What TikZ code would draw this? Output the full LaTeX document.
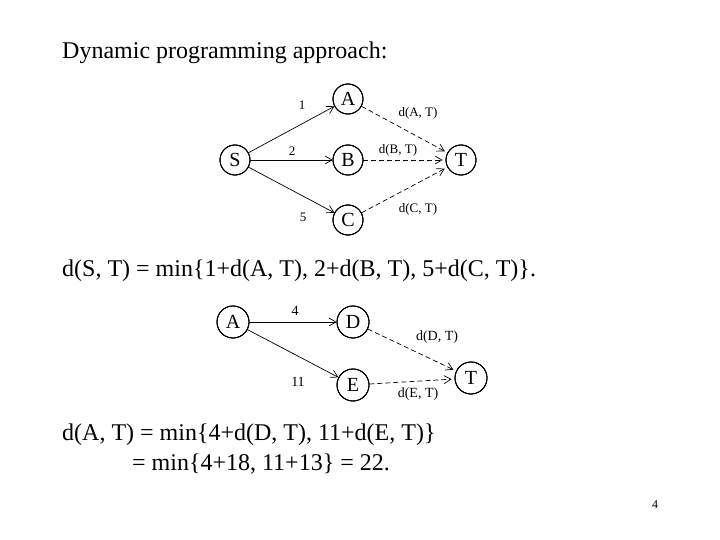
\documentclass[tikz,border=0pt]{standalone}
\usepackage{fontspec}
\setmainfont{Liberation Serif}
\usetikzlibrary{arrows.meta, positioning}

\tikzset{
  state/.style={draw, circle, line width=0.8pt, minimum size=30pt, inner sep=0pt,
    font=\fontsize{20}{20}\selectfont},
  ring/.style={line width=0.8pt},
  cost/.style={inner sep=0pt, font=\fontsize{13}{13}\selectfont},
  textline/.style={inner sep=0pt, anchor=base west, font=\fontsize{24}{29}\selectfont},
  hop/.style={line width=0.7pt, -{Straight Barb[angle=60:8pt]}},
  rest/.style={hop, dash pattern=on 5pt off 3pt, shorten >=3pt}
}

\begin{document}
\begin{tikzpicture}[x=1pt, y=1pt]
  \useasboundingbox (0,0) rectangle (720,-540);

  \node[textline] (title) at (62,-59) {Dynamic programming approach:};

  % first graph: S -> A, B, C -> T
  \node[state] (S) at (235,-160) {S};
  \node[state] (A) at (348,-99) {A};
  \node[state] (B) at (348,-160) {B};
  \node[state] (C) at (348,-220) {C};
  \node[state] (T) at (461,-160) {T};

  % second graph: A -> D, E -> T
  \node[state, minimum size=32pt] (A2) at (233,-322) {A};
  \node[state, minimum size=32pt] (D) at (353,-322) {D};
  \node[state, minimum size=32pt] (E) at (353,-385) {E};
  \node[state, minimum size=32pt] (T2) at (471,-378) {T};

  % rings traced again round every state
  \foreach \v/\r in {S/15,A/15,B/15,C/15,T/15,A2/16,D/16,E/16,T2/16} {
    \draw[ring, shift={(\v)}] plot[domain=0:360, samples=73] (\x:\r pt);
    \draw[ring] (\v) ++(\r pt,0) arc[start angle=0, end angle=359, radius=\r pt];
  }

  \draw[hop] (S) -- (A);
  \draw[hop] (S) -- (B);
  \draw[hop] (S) -- (C);
  \foreach \v in {A,B,C}
    \draw[rest] (\v) -- (T);

  \node[cost] (cSA) at (302,-105) {1};
  \node[cost] (cSB) at (292,-151) {2};
  \node[cost] (cSC) at (303,-217) {5};
  \node[cost] (dAT) at (418,-113) {d(A, T)};
  \node[cost] (dBT) at (398,-150) {d(B, T)};
  \node[cost] (dCT) at (418,-209) {d(C, T)};

  \node[textline] (eq1) at (62,-276) {d(S, T) = min\{1+d(A, T), 2+d(B, T), 5+d(C, T)\}.};

  \draw[hop] (A2) -- (D);
  \draw[hop] (A2) -- (E);
  \draw[rest] (D) -- (T2);
  \draw[rest] (E) -- (T2);

  \node[cost, font=\fontsize{14}{14}\selectfont] (cAD) at (295,-311) {4};
  \node[cost, font=\fontsize{14}{14}\selectfont] (cAE) at (298,-382) {11};
  \node[cost, font=\fontsize{14}{14}\selectfont] (dDT) at (437,-337) {d(D, T)};
  \node[cost, font=\fontsize{14}{14}\selectfont] (dET) at (418,-394) {d(E, T)};

  \node[textline] (eq2) at (62,-440) {d(A, T) = min\{4+d(D, T), 11+d(E, T)\}};
  \node[textline] (eq3) at (132,-470) {= min\{4+18, 11+13\} = 22.};

  \node[inner sep=0pt, font=\fontsize{12}{12}\selectfont] (page) at (655,-505) {4};
\end{tikzpicture}
\end{document}
